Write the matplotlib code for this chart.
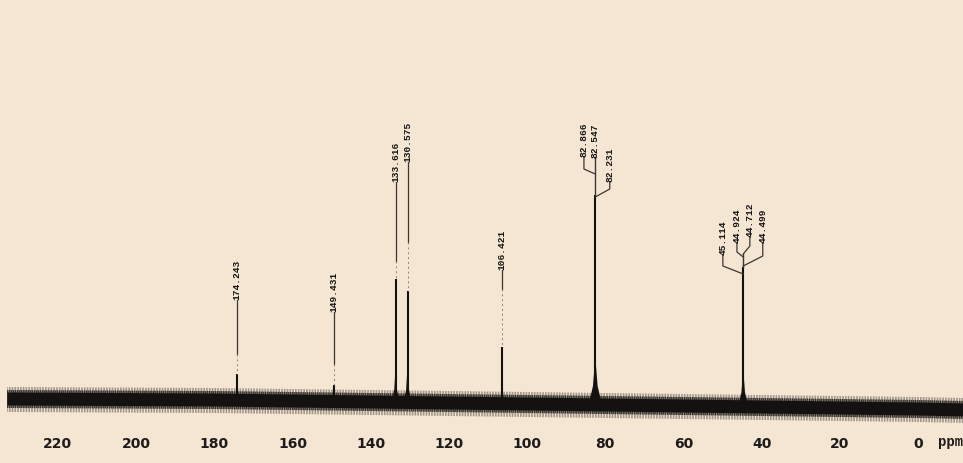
import numpy as np
import matplotlib
matplotlib.use("Agg")
import matplotlib.pyplot as plt

# ---------------- data ----------------
tick_values = [220, 200, 180, 160, 140, 120, 100, 80, 60, 40, 20, 0]
tick_labels = ["220", "200", "180", "160", "140", "120", "100", "80", "60", "40", "20", "0"]

# baseline (noise band centre) read at several shifts, tilted scan
baseline_ppm = [233, 180, 120, 60, 0, -12]
baseline_level = [25, 24, 21, 18, 15, 14]

# resolved peaks: shift (ppm) and height above local baseline
peak_ppm = [174.243, 149.431, 133.616, 130.575, 106.421, 82.547, 44.712]
peak_height = [26, 17, 123, 111, 57, 210, 140]
peak_base_halfwidth = [0.5, 0.5, 1.0, 1.0, 0.6, 1.7, 1.3]
peak_shoulder = [8, 6, 28, 28, 15, 42, 32]

# single peak labels
single_labels = ["174.243", "149.431", "133.616", "130.575", "106.421"]
# multiplet labels
group82_labels = ["82.866", "82.547", "82.231"]
group44_labels = ["45.114", "44.924", "44.712", "44.499"]

# ---------------- layout ----------------
BG = "#f5e6d3"
INK = "#141210"
W, H = 963, 464
AX_BOTTOM_PX = 425

plt.rcParams["hatch.linewidth"] = 1.2
fig = plt.figure(figsize=(W / 100, H / 100), dpi=100, facecolor=BG)
ax = fig.add_axes([0, (H - AX_BOTTOM_PX) / H, 1, AX_BOTTOM_PX / H])
ax.set_facecolor(BG)
ax.set_xlim(234.8, -11.5)
ax.set_ylim(0, AX_BOTTOM_PX)
for s in ax.spines.values():
    s.set_visible(False)
ax.set_yticks([])
ax.set_xticks(tick_values)
ax.set_xticklabels(tick_labels, fontsize=10, fontweight="bold", color="#1e1c1a")
ax.tick_params(axis="x", length=0, pad=9)

def base_at(p):
    return np.interp(-p, [-v for v in baseline_ppm], baseline_level)

# noise band
xs = np.array(baseline_ppm, dtype=float)
bl = np.array(baseline_level, dtype=float)
ax.fill_between(xs, bl - 13, bl + 12, facecolor="none", edgecolor="#3a3530",
                hatch="||||||", linewidth=0, alpha=0.45, zorder=2)
ax.fill_between(xs, bl - 9, bl + 9, facecolor="none", edgecolor="#1e1b18",
                hatch="||||||||", linewidth=0, alpha=0.8, zorder=2)
ax.fill_between(xs, bl - 6, bl + 7, color=INK, linewidth=0, zorder=3)

# peaks
for p, h, hw, sh in zip(peak_ppm, peak_height, peak_base_halfwidth, peak_shoulder):
    b = base_at(p)
    ax.plot([p, p], [b - 6, b + h], color=INK, lw=1.5, zorder=4, solid_capstyle="butt")
    ax.fill([p + hw, p + hw * 0.35, p + 0.12, p - 0.12, p - hw * 0.35, p - hw],
            [b, b + sh * 0.45, b + sh, b + sh, b + sh * 0.45, b],
            color=INK, lw=0, zorder=4)

# single labels: (text bottom, end of solid leader) in axis units
single_text_bottom = [125, 113, 243, 263, 155]
single_leader_end = [70, 60, 163, 182, 135]
lab_kw = dict(rotation=90, ha="center", va="bottom", fontsize=6.8,
              family="Liberation Mono", fontweight="bold", color=INK, zorder=6)
for i, lab in enumerate(single_labels):
    p = peak_ppm[i]
    top = base_at(p) + peak_height[i]
    ax.text(p, single_text_bottom[i], lab, **lab_kw)
    ax.plot([p, p], [single_text_bottom[i] - 1, single_leader_end[i]],
            color="#3a3632", lw=0.9, zorder=5)
    ax.plot([p, p], [single_leader_end[i], top], color="#8a827a", lw=0.7,
            ls=(0, (2, 3)), zorder=5)

# multiplet labels
def draw_group(labels, peak_i, dx, text_bottom, elbow, join):
    p = peak_ppm[peak_i]
    for lab, d, tb, el, jn in zip(labels, dx, text_bottom, elbow, join):
        x = p + d
        ax.text(x, tb, lab, **lab_kw)
        ax.plot([x, x, p], [tb - 1, el, jn], color="#3a3632", lw=0.9, zorder=5)
    top = base_at(p) + peak_height[peak_i]
    ax.plot([p, p], [max(join), top], color="#3a3632", lw=1.0, zorder=5)

draw_group(group82_labels, 5, [2.9, 0.0, -3.7],
           [268, 267, 243], [255, 267, 235], [250, 267, 227])
draw_group(group44_labels, 6, [5.2, 1.6, -1.7, -5.0],
           [170, 182, 188, 182], [158, 172, 178, 168], [150, 167, 170, 158])

# ppm unit label
ax.text(-5.0, -17, "ppm", ha="left", va="center", fontsize=10,
        family="Liberation Mono", fontweight="bold", color="#1e1c1a",
        clip_on=False)

fig.savefig("out.png", dpi=100, facecolor=BG)
